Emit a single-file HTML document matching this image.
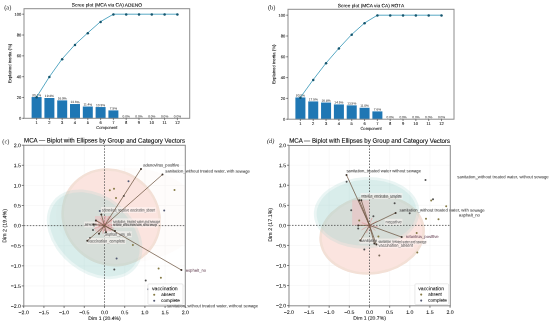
<!DOCTYPE html>
<html><head><meta charset="utf-8"><style>
html,body{margin:0;padding:0;background:#fff;width:550px;height:322px;overflow:hidden}
svg{display:block;filter:blur(0.4px)}
</style></head><body>
<svg width="550" height="322" viewBox="0 0 550 322">
<rect width="550" height="322" fill="#fff"/>
<rect x="31.61" y="97.06" width="9.98" height="21.24" fill="#1f77b4" />
<text x="36.60" y="95.16" font-size="3.2" text-anchor="middle" fill="#333" color="#333" font-family='"Liberation Sans", sans-serif' dominant-baseline="central"  stroke="#333" stroke-width="0.03" transform="rotate(0.1 36.60 95.16)">20.4%</text>
<rect x="44.41" y="98.00" width="9.98" height="20.30" fill="#1f77b4" />
<text x="49.40" y="96.10" font-size="3.2" text-anchor="middle" fill="#333" color="#333" font-family='"Liberation Sans", sans-serif' dominant-baseline="central"  stroke="#333" stroke-width="0.03" transform="rotate(0.1 49.40 96.10)">19.4%</text>
<rect x="57.21" y="100.39" width="9.98" height="17.91" fill="#1f77b4" />
<text x="62.20" y="98.49" font-size="3.2" text-anchor="middle" fill="#333" color="#333" font-family='"Liberation Sans", sans-serif' dominant-baseline="central"  stroke="#333" stroke-width="0.03" transform="rotate(0.1 62.20 98.49)">16.9%</text>
<rect x="70.01" y="104.04" width="9.98" height="14.26" fill="#1f77b4" />
<text x="75.00" y="102.14" font-size="3.2" text-anchor="middle" fill="#333" color="#333" font-family='"Liberation Sans", sans-serif' dominant-baseline="central"  stroke="#333" stroke-width="0.03" transform="rotate(0.1 75.00 102.14)">13.6%</text>
<rect x="82.81" y="106.54" width="9.98" height="11.76" fill="#1f77b4" />
<text x="87.80" y="104.64" font-size="3.2" text-anchor="middle" fill="#333" color="#333" font-family='"Liberation Sans", sans-serif' dominant-baseline="central"  stroke="#333" stroke-width="0.03" transform="rotate(0.1 87.80 104.64)">11.4%</text>
<rect x="95.61" y="107.06" width="9.98" height="11.24" fill="#1f77b4" />
<text x="100.60" y="105.16" font-size="3.2" text-anchor="middle" fill="#333" color="#333" font-family='"Liberation Sans", sans-serif' dominant-baseline="central"  stroke="#333" stroke-width="0.03" transform="rotate(0.1 100.60 105.16)">10.9%</text>
<rect x="108.41" y="110.39" width="9.98" height="7.91" fill="#1f77b4" />
<text x="113.40" y="108.49" font-size="3.2" text-anchor="middle" fill="#333" color="#333" font-family='"Liberation Sans", sans-serif' dominant-baseline="central"  stroke="#333" stroke-width="0.03" transform="rotate(0.1 113.40 108.49)">7.5%</text>
<text x="126.20" y="116.40" font-size="3.2" text-anchor="middle" fill="#333" color="#333" font-family='"Liberation Sans", sans-serif' dominant-baseline="central"  stroke="#333" stroke-width="0.03" transform="rotate(0.1 126.20 116.40)">0.0%</text>
<text x="139.00" y="116.40" font-size="3.2" text-anchor="middle" fill="#333" color="#333" font-family='"Liberation Sans", sans-serif' dominant-baseline="central"  stroke="#333" stroke-width="0.03" transform="rotate(0.1 139.00 116.40)">0.0%</text>
<text x="151.80" y="116.40" font-size="3.2" text-anchor="middle" fill="#333" color="#333" font-family='"Liberation Sans", sans-serif' dominant-baseline="central"  stroke="#333" stroke-width="0.03" transform="rotate(0.1 151.80 116.40)">0.0%</text>
<text x="164.60" y="116.40" font-size="3.2" text-anchor="middle" fill="#333" color="#333" font-family='"Liberation Sans", sans-serif' dominant-baseline="central"  stroke="#333" stroke-width="0.03" transform="rotate(0.1 164.60 116.40)">0.0%</text>
<text x="177.40" y="116.40" font-size="3.2" text-anchor="middle" fill="#333" color="#333" font-family='"Liberation Sans", sans-serif' dominant-baseline="central"  stroke="#333" stroke-width="0.03" transform="rotate(0.1 177.40 116.40)">0.0%</text>
<polyline points="36.60,97.06 49.40,76.76 62.20,58.86 75.00,44.60 87.80,32.83 100.60,21.59 113.40,14.20 126.20,14.20 139.00,14.20 151.80,14.20 164.60,14.20 177.40,14.20" fill="none" stroke="#58a9c4" stroke-width="1.0"/>
<circle cx="36.60" cy="97.36" r="1.25" fill="#16566e" />
<circle cx="49.40" cy="77.06" r="1.25" fill="#16566e" />
<circle cx="62.20" cy="59.16" r="1.25" fill="#16566e" />
<circle cx="75.00" cy="44.90" r="1.25" fill="#16566e" />
<circle cx="87.80" cy="33.13" r="1.25" fill="#16566e" />
<circle cx="100.60" cy="21.89" r="1.25" fill="#16566e" />
<circle cx="113.40" cy="14.50" r="1.25" fill="#16566e" />
<circle cx="126.20" cy="14.50" r="1.25" fill="#16566e" />
<circle cx="139.00" cy="14.50" r="1.25" fill="#16566e" />
<circle cx="151.80" cy="14.50" r="1.25" fill="#16566e" />
<circle cx="164.60" cy="14.50" r="1.25" fill="#16566e" />
<circle cx="177.40" cy="14.50" r="1.25" fill="#16566e" />
<rect x="24" y="8.7" width="165.7" height="109.6" fill="none" stroke="#8c8c8c" stroke-width="1.0"/>
<line x1="22.20" y1="118.30" x2="24.00" y2="118.30" stroke="#333" stroke-width="0.6" />
<text x="21.40" y="118.30" font-size="4.1" text-anchor="end" fill="#111" color="#111" font-family='"Liberation Sans", sans-serif' dominant-baseline="central"  stroke="#111" stroke-width="0.07" transform="rotate(0.1 21.40 118.30)">0</text>
<line x1="22.20" y1="97.48" x2="24.00" y2="97.48" stroke="#333" stroke-width="0.6" />
<text x="21.40" y="97.48" font-size="4.1" text-anchor="end" fill="#111" color="#111" font-family='"Liberation Sans", sans-serif' dominant-baseline="central"  stroke="#111" stroke-width="0.07" transform="rotate(0.1 21.40 97.48)">20</text>
<line x1="22.20" y1="76.66" x2="24.00" y2="76.66" stroke="#333" stroke-width="0.6" />
<text x="21.40" y="76.66" font-size="4.1" text-anchor="end" fill="#111" color="#111" font-family='"Liberation Sans", sans-serif' dominant-baseline="central"  stroke="#111" stroke-width="0.07" transform="rotate(0.1 21.40 76.66)">40</text>
<line x1="22.20" y1="55.84" x2="24.00" y2="55.84" stroke="#333" stroke-width="0.6" />
<text x="21.40" y="55.84" font-size="4.1" text-anchor="end" fill="#111" color="#111" font-family='"Liberation Sans", sans-serif' dominant-baseline="central"  stroke="#111" stroke-width="0.07" transform="rotate(0.1 21.40 55.84)">60</text>
<line x1="22.20" y1="35.02" x2="24.00" y2="35.02" stroke="#333" stroke-width="0.6" />
<text x="21.40" y="35.02" font-size="4.1" text-anchor="end" fill="#111" color="#111" font-family='"Liberation Sans", sans-serif' dominant-baseline="central"  stroke="#111" stroke-width="0.07" transform="rotate(0.1 21.40 35.02)">80</text>
<line x1="22.20" y1="14.20" x2="24.00" y2="14.20" stroke="#333" stroke-width="0.6" />
<text x="21.40" y="14.20" font-size="4.1" text-anchor="end" fill="#111" color="#111" font-family='"Liberation Sans", sans-serif' dominant-baseline="central"  stroke="#111" stroke-width="0.07" transform="rotate(0.1 21.40 14.20)">100</text>
<line x1="36.60" y1="118.30" x2="36.60" y2="120.10" stroke="#333" stroke-width="0.6" />
<text x="36.60" y="122.50" font-size="4.1" text-anchor="middle" fill="#111" color="#111" font-family='"Liberation Sans", sans-serif' dominant-baseline="central"  stroke="#111" stroke-width="0.07" transform="rotate(0.1 36.60 122.50)">1</text>
<line x1="49.40" y1="118.30" x2="49.40" y2="120.10" stroke="#333" stroke-width="0.6" />
<text x="49.40" y="122.50" font-size="4.1" text-anchor="middle" fill="#111" color="#111" font-family='"Liberation Sans", sans-serif' dominant-baseline="central"  stroke="#111" stroke-width="0.07" transform="rotate(0.1 49.40 122.50)">2</text>
<line x1="62.20" y1="118.30" x2="62.20" y2="120.10" stroke="#333" stroke-width="0.6" />
<text x="62.20" y="122.50" font-size="4.1" text-anchor="middle" fill="#111" color="#111" font-family='"Liberation Sans", sans-serif' dominant-baseline="central"  stroke="#111" stroke-width="0.07" transform="rotate(0.1 62.20 122.50)">3</text>
<line x1="75.00" y1="118.30" x2="75.00" y2="120.10" stroke="#333" stroke-width="0.6" />
<text x="75.00" y="122.50" font-size="4.1" text-anchor="middle" fill="#111" color="#111" font-family='"Liberation Sans", sans-serif' dominant-baseline="central"  stroke="#111" stroke-width="0.07" transform="rotate(0.1 75.00 122.50)">4</text>
<line x1="87.80" y1="118.30" x2="87.80" y2="120.10" stroke="#333" stroke-width="0.6" />
<text x="87.80" y="122.50" font-size="4.1" text-anchor="middle" fill="#111" color="#111" font-family='"Liberation Sans", sans-serif' dominant-baseline="central"  stroke="#111" stroke-width="0.07" transform="rotate(0.1 87.80 122.50)">5</text>
<line x1="100.60" y1="118.30" x2="100.60" y2="120.10" stroke="#333" stroke-width="0.6" />
<text x="100.60" y="122.50" font-size="4.1" text-anchor="middle" fill="#111" color="#111" font-family='"Liberation Sans", sans-serif' dominant-baseline="central"  stroke="#111" stroke-width="0.07" transform="rotate(0.1 100.60 122.50)">6</text>
<line x1="113.40" y1="118.30" x2="113.40" y2="120.10" stroke="#333" stroke-width="0.6" />
<text x="113.40" y="122.50" font-size="4.1" text-anchor="middle" fill="#111" color="#111" font-family='"Liberation Sans", sans-serif' dominant-baseline="central"  stroke="#111" stroke-width="0.07" transform="rotate(0.1 113.40 122.50)">7</text>
<line x1="126.20" y1="118.30" x2="126.20" y2="120.10" stroke="#333" stroke-width="0.6" />
<text x="126.20" y="122.50" font-size="4.1" text-anchor="middle" fill="#111" color="#111" font-family='"Liberation Sans", sans-serif' dominant-baseline="central"  stroke="#111" stroke-width="0.07" transform="rotate(0.1 126.20 122.50)">8</text>
<line x1="139.00" y1="118.30" x2="139.00" y2="120.10" stroke="#333" stroke-width="0.6" />
<text x="139.00" y="122.50" font-size="4.1" text-anchor="middle" fill="#111" color="#111" font-family='"Liberation Sans", sans-serif' dominant-baseline="central"  stroke="#111" stroke-width="0.07" transform="rotate(0.1 139.00 122.50)">9</text>
<line x1="151.80" y1="118.30" x2="151.80" y2="120.10" stroke="#333" stroke-width="0.6" />
<text x="151.80" y="122.50" font-size="4.1" text-anchor="middle" fill="#111" color="#111" font-family='"Liberation Sans", sans-serif' dominant-baseline="central"  stroke="#111" stroke-width="0.07" transform="rotate(0.1 151.80 122.50)">10</text>
<line x1="164.60" y1="118.30" x2="164.60" y2="120.10" stroke="#333" stroke-width="0.6" />
<text x="164.60" y="122.50" font-size="4.1" text-anchor="middle" fill="#111" color="#111" font-family='"Liberation Sans", sans-serif' dominant-baseline="central"  stroke="#111" stroke-width="0.07" transform="rotate(0.1 164.60 122.50)">11</text>
<line x1="177.40" y1="118.30" x2="177.40" y2="120.10" stroke="#333" stroke-width="0.6" />
<text x="177.40" y="122.50" font-size="4.1" text-anchor="middle" fill="#111" color="#111" font-family='"Liberation Sans", sans-serif' dominant-baseline="central"  stroke="#111" stroke-width="0.07" transform="rotate(0.1 177.40 122.50)">12</text>
<text x="106.85" y="127.50" font-size="4.1" text-anchor="middle" fill="#111" color="#111" font-family='"Liberation Sans", sans-serif' dominant-baseline="central"  stroke="#111" stroke-width="0.07" transform="rotate(0.1 106.85 127.50)">Component</text>
<text x="106.85" y="5.10" font-size="4.8" text-anchor="middle" fill="#000" color="#000" font-family='"Liberation Sans", sans-serif' dominant-baseline="central"  stroke="#000" stroke-width="0.07" transform="rotate(0.1 106.85 5.10)">Scree plot (MCA via CA) ADENO</text>
<text x="9.70" y="63.50" font-size="4.25" text-anchor="middle" fill="#111" color="#111" font-family='"Liberation Sans", sans-serif' dominant-baseline="central" transform="rotate(-89.9 9.70 63.50)" stroke="#111" stroke-width="0.07">Explained inertia (%)</text>
<text x="4.20" y="6.90" font-size="6.4" text-anchor="start" fill="#222" color="#222" font-family='"Liberation Serif", serif' dominant-baseline="central"  transform="rotate(0.1 4.20 6.90)">(a)</text>
<rect x="295.40" y="97.46" width="10.01" height="21.74" fill="#1f77b4" />
<text x="300.40" y="95.56" font-size="3.2" text-anchor="middle" fill="#333" color="#333" font-family='"Liberation Sans", sans-serif' dominant-baseline="central"  stroke="#333" stroke-width="0.03" transform="rotate(0.1 300.40 95.56)">20.9%</text>
<rect x="308.23" y="101.42" width="10.01" height="17.78" fill="#1f77b4" />
<text x="313.23" y="99.52" font-size="3.2" text-anchor="middle" fill="#333" color="#333" font-family='"Liberation Sans", sans-serif' dominant-baseline="central"  stroke="#333" stroke-width="0.03" transform="rotate(0.1 313.23 99.52)">17.5%</text>
<rect x="321.06" y="102.56" width="10.01" height="16.64" fill="#1f77b4" />
<text x="326.06" y="100.66" font-size="3.2" text-anchor="middle" fill="#333" color="#333" font-family='"Liberation Sans", sans-serif' dominant-baseline="central"  stroke="#333" stroke-width="0.03" transform="rotate(0.1 326.06 100.66)">16.8%</text>
<rect x="333.89" y="104.43" width="10.01" height="14.77" fill="#1f77b4" />
<text x="338.89" y="102.53" font-size="3.2" text-anchor="middle" fill="#333" color="#333" font-family='"Liberation Sans", sans-serif' dominant-baseline="central"  stroke="#333" stroke-width="0.03" transform="rotate(0.1 338.89 102.53)">14.5%</text>
<rect x="346.72" y="105.37" width="10.01" height="13.83" fill="#1f77b4" />
<text x="351.72" y="103.47" font-size="3.2" text-anchor="middle" fill="#333" color="#333" font-family='"Liberation Sans", sans-serif' dominant-baseline="central"  stroke="#333" stroke-width="0.03" transform="rotate(0.1 351.72 103.47)">13.5%</text>
<rect x="359.55" y="107.76" width="10.01" height="11.44" fill="#1f77b4" />
<text x="364.55" y="105.86" font-size="3.2" text-anchor="middle" fill="#333" color="#333" font-family='"Liberation Sans", sans-serif' dominant-baseline="central"  stroke="#333" stroke-width="0.03" transform="rotate(0.1 364.55 105.86)">11.0%</text>
<rect x="372.38" y="111.40" width="10.01" height="7.80" fill="#1f77b4" />
<text x="377.38" y="109.50" font-size="3.2" text-anchor="middle" fill="#333" color="#333" font-family='"Liberation Sans", sans-serif' dominant-baseline="central"  stroke="#333" stroke-width="0.03" transform="rotate(0.1 377.38 109.50)">7.6%</text>
<text x="390.21" y="117.30" font-size="3.2" text-anchor="middle" fill="#333" color="#333" font-family='"Liberation Sans", sans-serif' dominant-baseline="central"  stroke="#333" stroke-width="0.03" transform="rotate(0.1 390.21 117.30)">0.0%</text>
<text x="403.04" y="117.30" font-size="3.2" text-anchor="middle" fill="#333" color="#333" font-family='"Liberation Sans", sans-serif' dominant-baseline="central"  stroke="#333" stroke-width="0.03" transform="rotate(0.1 403.04 117.30)">0.0%</text>
<text x="415.87" y="117.30" font-size="3.2" text-anchor="middle" fill="#333" color="#333" font-family='"Liberation Sans", sans-serif' dominant-baseline="central"  stroke="#333" stroke-width="0.03" transform="rotate(0.1 415.87 117.30)">0.0%</text>
<text x="428.70" y="117.30" font-size="3.2" text-anchor="middle" fill="#333" color="#333" font-family='"Liberation Sans", sans-serif' dominant-baseline="central"  stroke="#333" stroke-width="0.03" transform="rotate(0.1 428.70 117.30)">0.0%</text>
<text x="441.53" y="117.30" font-size="3.2" text-anchor="middle" fill="#333" color="#333" font-family='"Liberation Sans", sans-serif' dominant-baseline="central"  stroke="#333" stroke-width="0.03" transform="rotate(0.1 441.53 117.30)">0.0%</text>
<polyline points="300.40,97.46 313.23,79.68 326.06,63.04 338.89,48.27 351.72,34.44 364.55,23.00 377.38,15.20 390.21,15.20 403.04,15.20 415.87,15.20 428.70,15.20 441.53,15.20" fill="none" stroke="#58a9c4" stroke-width="1.0"/>
<circle cx="300.40" cy="97.76" r="1.25" fill="#16566e" />
<circle cx="313.23" cy="79.98" r="1.25" fill="#16566e" />
<circle cx="326.06" cy="63.34" r="1.25" fill="#16566e" />
<circle cx="338.89" cy="48.57" r="1.25" fill="#16566e" />
<circle cx="351.72" cy="34.74" r="1.25" fill="#16566e" />
<circle cx="364.55" cy="23.30" r="1.25" fill="#16566e" />
<circle cx="377.38" cy="15.50" r="1.25" fill="#16566e" />
<circle cx="390.21" cy="15.50" r="1.25" fill="#16566e" />
<circle cx="403.04" cy="15.50" r="1.25" fill="#16566e" />
<circle cx="415.87" cy="15.50" r="1.25" fill="#16566e" />
<circle cx="428.70" cy="15.50" r="1.25" fill="#16566e" />
<circle cx="441.53" cy="15.50" r="1.25" fill="#16566e" />
<rect x="288" y="9.3" width="166" height="109.9" fill="none" stroke="#8c8c8c" stroke-width="1.0"/>
<line x1="286.20" y1="119.20" x2="288.00" y2="119.20" stroke="#333" stroke-width="0.6" />
<text x="285.40" y="119.20" font-size="4.1" text-anchor="end" fill="#111" color="#111" font-family='"Liberation Sans", sans-serif' dominant-baseline="central"  stroke="#111" stroke-width="0.07" transform="rotate(0.1 285.40 119.20)">0</text>
<line x1="286.20" y1="98.40" x2="288.00" y2="98.40" stroke="#333" stroke-width="0.6" />
<text x="285.40" y="98.40" font-size="4.1" text-anchor="end" fill="#111" color="#111" font-family='"Liberation Sans", sans-serif' dominant-baseline="central"  stroke="#111" stroke-width="0.07" transform="rotate(0.1 285.40 98.40)">20</text>
<line x1="286.20" y1="77.60" x2="288.00" y2="77.60" stroke="#333" stroke-width="0.6" />
<text x="285.40" y="77.60" font-size="4.1" text-anchor="end" fill="#111" color="#111" font-family='"Liberation Sans", sans-serif' dominant-baseline="central"  stroke="#111" stroke-width="0.07" transform="rotate(0.1 285.40 77.60)">40</text>
<line x1="286.20" y1="56.80" x2="288.00" y2="56.80" stroke="#333" stroke-width="0.6" />
<text x="285.40" y="56.80" font-size="4.1" text-anchor="end" fill="#111" color="#111" font-family='"Liberation Sans", sans-serif' dominant-baseline="central"  stroke="#111" stroke-width="0.07" transform="rotate(0.1 285.40 56.80)">60</text>
<line x1="286.20" y1="36.00" x2="288.00" y2="36.00" stroke="#333" stroke-width="0.6" />
<text x="285.40" y="36.00" font-size="4.1" text-anchor="end" fill="#111" color="#111" font-family='"Liberation Sans", sans-serif' dominant-baseline="central"  stroke="#111" stroke-width="0.07" transform="rotate(0.1 285.40 36.00)">80</text>
<line x1="286.20" y1="15.20" x2="288.00" y2="15.20" stroke="#333" stroke-width="0.6" />
<text x="285.40" y="15.20" font-size="4.1" text-anchor="end" fill="#111" color="#111" font-family='"Liberation Sans", sans-serif' dominant-baseline="central"  stroke="#111" stroke-width="0.07" transform="rotate(0.1 285.40 15.20)">100</text>
<line x1="300.40" y1="119.20" x2="300.40" y2="121.00" stroke="#333" stroke-width="0.6" />
<text x="300.40" y="123.40" font-size="4.1" text-anchor="middle" fill="#111" color="#111" font-family='"Liberation Sans", sans-serif' dominant-baseline="central"  stroke="#111" stroke-width="0.07" transform="rotate(0.1 300.40 123.40)">1</text>
<line x1="313.23" y1="119.20" x2="313.23" y2="121.00" stroke="#333" stroke-width="0.6" />
<text x="313.23" y="123.40" font-size="4.1" text-anchor="middle" fill="#111" color="#111" font-family='"Liberation Sans", sans-serif' dominant-baseline="central"  stroke="#111" stroke-width="0.07" transform="rotate(0.1 313.23 123.40)">2</text>
<line x1="326.06" y1="119.20" x2="326.06" y2="121.00" stroke="#333" stroke-width="0.6" />
<text x="326.06" y="123.40" font-size="4.1" text-anchor="middle" fill="#111" color="#111" font-family='"Liberation Sans", sans-serif' dominant-baseline="central"  stroke="#111" stroke-width="0.07" transform="rotate(0.1 326.06 123.40)">3</text>
<line x1="338.89" y1="119.20" x2="338.89" y2="121.00" stroke="#333" stroke-width="0.6" />
<text x="338.89" y="123.40" font-size="4.1" text-anchor="middle" fill="#111" color="#111" font-family='"Liberation Sans", sans-serif' dominant-baseline="central"  stroke="#111" stroke-width="0.07" transform="rotate(0.1 338.89 123.40)">4</text>
<line x1="351.72" y1="119.20" x2="351.72" y2="121.00" stroke="#333" stroke-width="0.6" />
<text x="351.72" y="123.40" font-size="4.1" text-anchor="middle" fill="#111" color="#111" font-family='"Liberation Sans", sans-serif' dominant-baseline="central"  stroke="#111" stroke-width="0.07" transform="rotate(0.1 351.72 123.40)">5</text>
<line x1="364.55" y1="119.20" x2="364.55" y2="121.00" stroke="#333" stroke-width="0.6" />
<text x="364.55" y="123.40" font-size="4.1" text-anchor="middle" fill="#111" color="#111" font-family='"Liberation Sans", sans-serif' dominant-baseline="central"  stroke="#111" stroke-width="0.07" transform="rotate(0.1 364.55 123.40)">6</text>
<line x1="377.38" y1="119.20" x2="377.38" y2="121.00" stroke="#333" stroke-width="0.6" />
<text x="377.38" y="123.40" font-size="4.1" text-anchor="middle" fill="#111" color="#111" font-family='"Liberation Sans", sans-serif' dominant-baseline="central"  stroke="#111" stroke-width="0.07" transform="rotate(0.1 377.38 123.40)">7</text>
<line x1="390.21" y1="119.20" x2="390.21" y2="121.00" stroke="#333" stroke-width="0.6" />
<text x="390.21" y="123.40" font-size="4.1" text-anchor="middle" fill="#111" color="#111" font-family='"Liberation Sans", sans-serif' dominant-baseline="central"  stroke="#111" stroke-width="0.07" transform="rotate(0.1 390.21 123.40)">8</text>
<line x1="403.04" y1="119.20" x2="403.04" y2="121.00" stroke="#333" stroke-width="0.6" />
<text x="403.04" y="123.40" font-size="4.1" text-anchor="middle" fill="#111" color="#111" font-family='"Liberation Sans", sans-serif' dominant-baseline="central"  stroke="#111" stroke-width="0.07" transform="rotate(0.1 403.04 123.40)">9</text>
<line x1="415.87" y1="119.20" x2="415.87" y2="121.00" stroke="#333" stroke-width="0.6" />
<text x="415.87" y="123.40" font-size="4.1" text-anchor="middle" fill="#111" color="#111" font-family='"Liberation Sans", sans-serif' dominant-baseline="central"  stroke="#111" stroke-width="0.07" transform="rotate(0.1 415.87 123.40)">10</text>
<line x1="428.70" y1="119.20" x2="428.70" y2="121.00" stroke="#333" stroke-width="0.6" />
<text x="428.70" y="123.40" font-size="4.1" text-anchor="middle" fill="#111" color="#111" font-family='"Liberation Sans", sans-serif' dominant-baseline="central"  stroke="#111" stroke-width="0.07" transform="rotate(0.1 428.70 123.40)">11</text>
<line x1="441.53" y1="119.20" x2="441.53" y2="121.00" stroke="#333" stroke-width="0.6" />
<text x="441.53" y="123.40" font-size="4.1" text-anchor="middle" fill="#111" color="#111" font-family='"Liberation Sans", sans-serif' dominant-baseline="central"  stroke="#111" stroke-width="0.07" transform="rotate(0.1 441.53 123.40)">12</text>
<text x="371.00" y="128.40" font-size="4.1" text-anchor="middle" fill="#111" color="#111" font-family='"Liberation Sans", sans-serif' dominant-baseline="central"  stroke="#111" stroke-width="0.07" transform="rotate(0.1 371.00 128.40)">Component</text>
<text x="371.00" y="5.70" font-size="4.8" text-anchor="middle" fill="#000" color="#000" font-family='"Liberation Sans", sans-serif' dominant-baseline="central"  stroke="#000" stroke-width="0.07" transform="rotate(0.1 371.00 5.70)">Scree plot (MCA via CA) ROTA</text>
<text x="273.70" y="64.25" font-size="4.25" text-anchor="middle" fill="#111" color="#111" font-family='"Liberation Sans", sans-serif' dominant-baseline="central" transform="rotate(-89.9 273.70 64.25)" stroke="#111" stroke-width="0.07">Explained inertia (%)</text>
<text x="267.90" y="6.90" font-size="6.4" text-anchor="start" fill="#222" color="#222" font-family='"Liberation Serif", serif' dominant-baseline="central"  transform="rotate(0.1 267.90 6.90)">(b)</text>
<line x1="23.70" y1="145.30" x2="23.70" y2="306.00" stroke="#f3f3f3" stroke-width="0.5" />
<line x1="23.80" y1="306.00" x2="185.30" y2="306.00" stroke="#f3f3f3" stroke-width="0.5" />
<line x1="43.90" y1="145.30" x2="43.90" y2="306.00" stroke="#f3f3f3" stroke-width="0.5" />
<line x1="23.80" y1="285.90" x2="185.30" y2="285.90" stroke="#f3f3f3" stroke-width="0.5" />
<line x1="64.10" y1="145.30" x2="64.10" y2="306.00" stroke="#f3f3f3" stroke-width="0.5" />
<line x1="23.80" y1="265.80" x2="185.30" y2="265.80" stroke="#f3f3f3" stroke-width="0.5" />
<line x1="84.30" y1="145.30" x2="84.30" y2="306.00" stroke="#f3f3f3" stroke-width="0.5" />
<line x1="23.80" y1="245.70" x2="185.30" y2="245.70" stroke="#f3f3f3" stroke-width="0.5" />
<line x1="104.50" y1="145.30" x2="104.50" y2="306.00" stroke="#f3f3f3" stroke-width="0.5" />
<line x1="23.80" y1="225.60" x2="185.30" y2="225.60" stroke="#f3f3f3" stroke-width="0.5" />
<line x1="124.70" y1="145.30" x2="124.70" y2="306.00" stroke="#f3f3f3" stroke-width="0.5" />
<line x1="23.80" y1="205.50" x2="185.30" y2="205.50" stroke="#f3f3f3" stroke-width="0.5" />
<line x1="144.90" y1="145.30" x2="144.90" y2="306.00" stroke="#f3f3f3" stroke-width="0.5" />
<line x1="23.80" y1="185.40" x2="185.30" y2="185.40" stroke="#f3f3f3" stroke-width="0.5" />
<line x1="165.10" y1="145.30" x2="165.10" y2="306.00" stroke="#f3f3f3" stroke-width="0.5" />
<line x1="23.80" y1="165.30" x2="185.30" y2="165.30" stroke="#f3f3f3" stroke-width="0.5" />
<line x1="185.30" y1="145.30" x2="185.30" y2="306.00" stroke="#f3f3f3" stroke-width="0.5" />
<line x1="23.80" y1="145.20" x2="185.30" y2="145.20" stroke="#f3f3f3" stroke-width="0.5" />
<clipPath id="ax1"><rect x="23.8" y="145.3" width="161.5" height="160.7"/></clipPath>
<ellipse cx="128" cy="215" rx="72" ry="47" transform="rotate(0 128 215)" fill="#fbe4df" fill-opacity="0.13" clip-path="url(#ax1)"/>
<g transform="rotate(40 111.20 217.40)">
<ellipse cx="111.20" cy="217.40" rx="51.40" ry="47.40" fill="#fbe4df" fill-opacity="1.0"/>
<clipPath id="ec2"><ellipse cx="111.20" cy="217.40" rx="51.40" ry="47.40"/></clipPath>
<ellipse cx="111.20" cy="217.40" rx="51.40" ry="47.40" fill="none" stroke="#d8d0b8" stroke-opacity="0.22" stroke-width="5" clip-path="url(#ec2)"/>
</g>
<g transform="rotate(39.2 94.60 234.30)">
<ellipse cx="94.60" cy="234.30" rx="53.20" ry="38.40" fill="#9fd3cf" fill-opacity="0.22"/>
<ellipse cx="94.60" cy="234.30" rx="50.40" ry="35.60" fill="#9fd3cf" fill-opacity="0.231"/>
</g>
<line x1="104.50" y1="145.30" x2="104.50" y2="306.00" stroke="#444" stroke-width="0.75" stroke-dasharray="1.5,1.5"/>
<line x1="23.80" y1="225.60" x2="185.30" y2="225.60" stroke="#444" stroke-width="0.75" stroke-dasharray="1.5,1.5"/>
<rect x="95" y="216" width="17" height="15.5" fill="#f2b9bb" fill-opacity="0.45"/>
<line x1="104.4" y1="224.8" x2="115.40" y2="224.80" stroke="#e07a80" stroke-width="0.6" stroke-opacity="0.8"/>
<line x1="104.4" y1="224.8" x2="113.80" y2="228.22" stroke="#e07a80" stroke-width="0.6" stroke-opacity="0.8"/>
<line x1="104.4" y1="224.8" x2="110.76" y2="231.16" stroke="#e07a80" stroke-width="0.6" stroke-opacity="0.8"/>
<line x1="104.4" y1="224.8" x2="107.14" y2="232.32" stroke="#e07a80" stroke-width="0.6" stroke-opacity="0.8"/>
<line x1="104.4" y1="224.8" x2="102.84" y2="233.66" stroke="#e07a80" stroke-width="0.6" stroke-opacity="0.8"/>
<line x1="104.4" y1="224.8" x2="97.97" y2="232.46" stroke="#e07a80" stroke-width="0.6" stroke-opacity="0.8"/>
<line x1="104.4" y1="224.8" x2="94.06" y2="228.56" stroke="#e07a80" stroke-width="0.6" stroke-opacity="0.8"/>
<line x1="104.4" y1="224.8" x2="94.44" y2="223.93" stroke="#e07a80" stroke-width="0.6" stroke-opacity="0.8"/>
<line x1="104.4" y1="224.8" x2="96.61" y2="220.30" stroke="#e07a80" stroke-width="0.6" stroke-opacity="0.8"/>
<line x1="104.4" y1="224.8" x2="100.40" y2="217.87" stroke="#e07a80" stroke-width="0.6" stroke-opacity="0.8"/>
<line x1="104.4" y1="224.8" x2="105.18" y2="215.83" stroke="#e07a80" stroke-width="0.6" stroke-opacity="0.8"/>
<line x1="104.4" y1="224.8" x2="109.40" y2="216.14" stroke="#e07a80" stroke-width="0.6" stroke-opacity="0.8"/>
<line x1="104.4" y1="224.8" x2="113.93" y2="219.30" stroke="#e07a80" stroke-width="0.6" stroke-opacity="0.8"/>
<circle cx="128.50" cy="181.30" r="1.0" fill="#525872" />
<circle cx="109.80" cy="190.30" r="1.0" fill="#857a45" />
<circle cx="114.00" cy="188.80" r="1.0" fill="#857a45" />
<circle cx="116.00" cy="198.00" r="1.0" fill="#857a45" />
<circle cx="174.50" cy="189.90" r="1.0" fill="#857a45" />
<circle cx="158.60" cy="268.60" r="1.0" fill="#857a45" />
<circle cx="160.90" cy="277.70" r="1.0" fill="#857a45" />
<circle cx="145.70" cy="280.60" r="1.0" fill="#505050" />
<circle cx="116.60" cy="258.60" r="1.0" fill="#525872" />
<circle cx="114.30" cy="269.40" r="1.0" fill="#505050" />
<circle cx="132.90" cy="244.90" r="1.0" fill="#857a45" />
<circle cx="148.20" cy="289.30" r="1.0" fill="#525872" />
<circle cx="93.00" cy="230.00" r="1.0" fill="#505050" />
<circle cx="90.00" cy="238.00" r="1.0" fill="#505050" />
<circle cx="86.00" cy="225.00" r="1.0" fill="#505050" />
<circle cx="99.75" cy="211.00" r="1.0" fill="#525872" />
<circle cx="164.20" cy="210.50" r="1.0" fill="#525872" />
<circle cx="123.80" cy="196.00" r="1.0" fill="#505050" />
<rect x="101.20" y="207.00" width="54.60" height="6.00" fill="#fff6f4" fill-opacity="0.55"/>
<rect x="112.20" y="218.40" width="48.60" height="6.00" fill="#fff6f4" fill-opacity="0.55"/>
<rect x="112.20" y="221.50" width="45.60" height="6.00" fill="#fff6f4" fill-opacity="0.55"/>
<rect x="104.20" y="231.30" width="27.60" height="6.00" fill="#fff6f4" fill-opacity="0.55"/>
<rect x="87.20" y="238.00" width="38.60" height="6.00" fill="#fff6f4" fill-opacity="0.55"/>
<rect x="84.20" y="221.65" width="13.60" height="5.70" fill="#fff6f4" fill-opacity="0.55"/>
<line x1="104.50" y1="225.60" x2="141.00" y2="168.90" stroke="#6e5642" stroke-width="0.75" />
<circle cx="141.00" cy="168.90" r="1.0" fill="#3e342c" />
<line x1="104.50" y1="225.60" x2="162.50" y2="174.50" stroke="#6e5642" stroke-width="0.75" />
<circle cx="162.50" cy="174.50" r="1.0" fill="#3e342c" />
<line x1="104.50" y1="225.60" x2="181.40" y2="270.00" stroke="#6e5642" stroke-width="0.75" />
<circle cx="181.40" cy="270.00" r="1.0" fill="#3e342c" />
<line x1="104.50" y1="225.60" x2="87.30" y2="240.80" stroke="#6e5642" stroke-width="0.75" />
<circle cx="87.30" cy="240.80" r="1.0" fill="#3e342c" />
<line x1="104.50" y1="225.60" x2="101.30" y2="214.40" stroke="#6e5642" stroke-width="0.75" />
<circle cx="101.30" cy="214.40" r="1.0" fill="#3e342c" />
<line x1="104.50" y1="225.60" x2="95.90" y2="220.60" stroke="#6e5642" stroke-width="0.75" />
<circle cx="95.90" cy="220.60" r="1.0" fill="#3e342c" />
<line x1="104.50" y1="225.60" x2="93.50" y2="224.50" stroke="#6e5642" stroke-width="0.75" />
<circle cx="93.50" cy="224.50" r="1.0" fill="#3e342c" />
<line x1="104.50" y1="225.60" x2="99.00" y2="233.80" stroke="#6e5642" stroke-width="0.75" />
<circle cx="99.00" cy="233.80" r="1.0" fill="#3e342c" />
<line x1="104.50" y1="225.60" x2="106.00" y2="232.30" stroke="#6e5642" stroke-width="0.75" />
<circle cx="106.00" cy="232.30" r="1.0" fill="#3e342c" />
<line x1="104.50" y1="225.60" x2="115.00" y2="231.00" stroke="#6e5642" stroke-width="0.75" />
<circle cx="115.00" cy="231.00" r="1.0" fill="#3e342c" />
<text x="143.20" y="165.00" font-size="4.07" text-anchor="start" fill="#4a4a4a" color="#4a4a4a" font-family='"Liberation Sans", sans-serif' dominant-baseline="central"  textLength="36.00" lengthAdjust="spacingAndGlyphs" stroke="#4a4a4a" stroke-width="0.07" transform="rotate(0.1 143.20 165.00)">adenovirus_positive</text>
<text x="165.30" y="171.00" font-size="4.2" text-anchor="start" fill="#4a4a4a" color="#4a4a4a" font-family='"Liberation Sans", sans-serif' dominant-baseline="central"  textLength="84.60" lengthAdjust="spacingAndGlyphs" stroke="#4a4a4a" stroke-width="0.07" transform="rotate(0.1 165.30 171.00)">sanitation_without treated water, with sewage</text>
<text x="185.70" y="270.20" font-size="4.2" text-anchor="start" fill="#7a5a6a" color="#7a5a6a" font-family='"Liberation Sans", sans-serif' dominant-baseline="central"  textLength="20.50" lengthAdjust="spacingAndGlyphs" stroke="#7a5a6a" stroke-width="0.07" transform="rotate(0.1 185.70 270.20)">asphalt_no</text>
<text x="167.00" y="305.70" font-size="4.2" text-anchor="start" fill="#4a4a4a" color="#4a4a4a" font-family='"Liberation Sans", sans-serif' dominant-baseline="central"  textLength="91.00" lengthAdjust="spacingAndGlyphs" stroke="#4a4a4a" stroke-width="0.07" transform="rotate(0.1 167.00 305.70)">sanitation_without treated water, without sewage</text>
<text x="102.00" y="210.00" font-size="4.0" text-anchor="start" fill="#666" color="#666" font-family='"Liberation Sans", sans-serif' dominant-baseline="central"  textLength="53.00" lengthAdjust="spacingAndGlyphs" stroke="#666" stroke-width="0.07" transform="rotate(0.1 102.00 210.00)">adenovirus_negative vaccination_absent</text>
<text x="113.00" y="221.40" font-size="4.0" text-anchor="start" fill="#666" color="#666" font-family='"Liberation Sans", sans-serif' dominant-baseline="central"  textLength="47.00" lengthAdjust="spacingAndGlyphs" stroke="#666" stroke-width="0.07" transform="rotate(0.1 113.00 221.40)">sanitation_treated water and sewage</text>
<text x="113.00" y="224.50" font-size="4.0" text-anchor="start" fill="#444" color="#444" font-family='"Liberation Sans", sans-serif' dominant-baseline="central"  textLength="44.00" lengthAdjust="spacingAndGlyphs" stroke="#444" stroke-width="0.07" transform="rotate(0.1 113.00 224.50)">sanitation_without treated water, without sewage</text>
<text x="105.00" y="234.30" font-size="4.0" text-anchor="start" fill="#666" color="#666" font-family='"Liberation Sans", sans-serif' dominant-baseline="central"  textLength="26.00" lengthAdjust="spacingAndGlyphs" stroke="#666" stroke-width="0.07" transform="rotate(0.1 105.00 234.30)">asphalt_yes_ok</text>
<text x="88.00" y="241.00" font-size="4.0" text-anchor="start" fill="#666" color="#666" font-family='"Liberation Sans", sans-serif' dominant-baseline="central"  textLength="37.00" lengthAdjust="spacingAndGlyphs" stroke="#666" stroke-width="0.07" transform="rotate(0.1 88.00 241.00)">vaccination_complete</text>
<text x="85.00" y="224.50" font-size="3.8" text-anchor="start" fill="#444" color="#444" font-family='"Liberation Sans", sans-serif' dominant-baseline="central"  textLength="12.00" lengthAdjust="spacingAndGlyphs" stroke="#444" stroke-width="0.03" transform="rotate(0.1 85.00 224.50)">sewage</text>
<rect x="23.8" y="145.3" width="161.5" height="160.7" fill="none" stroke="#8c8c8c" stroke-width="1.0"/>
<line x1="23.70" y1="306.00" x2="23.70" y2="308.00" stroke="#333" stroke-width="0.6" />
<text x="23.70" y="312.30" font-size="5.2" text-anchor="middle" fill="#111" color="#111" font-family='"Liberation Sans", sans-serif' dominant-baseline="central"  stroke="#111" stroke-width="0.07" transform="rotate(0.1 23.70 312.30)">−2.0</text>
<line x1="21.80" y1="306.00" x2="23.80" y2="306.00" stroke="#333" stroke-width="0.6" />
<text x="21.00" y="306.00" font-size="5.2" text-anchor="end" fill="#111" color="#111" font-family='"Liberation Sans", sans-serif' dominant-baseline="central"  stroke="#111" stroke-width="0.07" transform="rotate(0.1 21.00 306.00)">−2.0</text>
<line x1="43.90" y1="306.00" x2="43.90" y2="308.00" stroke="#333" stroke-width="0.6" />
<text x="43.90" y="312.30" font-size="5.2" text-anchor="middle" fill="#111" color="#111" font-family='"Liberation Sans", sans-serif' dominant-baseline="central"  stroke="#111" stroke-width="0.07" transform="rotate(0.1 43.90 312.30)">−1.5</text>
<line x1="21.80" y1="285.90" x2="23.80" y2="285.90" stroke="#333" stroke-width="0.6" />
<text x="21.00" y="285.90" font-size="5.2" text-anchor="end" fill="#111" color="#111" font-family='"Liberation Sans", sans-serif' dominant-baseline="central"  stroke="#111" stroke-width="0.07" transform="rotate(0.1 21.00 285.90)">−1.5</text>
<line x1="64.10" y1="306.00" x2="64.10" y2="308.00" stroke="#333" stroke-width="0.6" />
<text x="64.10" y="312.30" font-size="5.2" text-anchor="middle" fill="#111" color="#111" font-family='"Liberation Sans", sans-serif' dominant-baseline="central"  stroke="#111" stroke-width="0.07" transform="rotate(0.1 64.10 312.30)">−1.0</text>
<line x1="21.80" y1="265.80" x2="23.80" y2="265.80" stroke="#333" stroke-width="0.6" />
<text x="21.00" y="265.80" font-size="5.2" text-anchor="end" fill="#111" color="#111" font-family='"Liberation Sans", sans-serif' dominant-baseline="central"  stroke="#111" stroke-width="0.07" transform="rotate(0.1 21.00 265.80)">−1.0</text>
<line x1="84.30" y1="306.00" x2="84.30" y2="308.00" stroke="#333" stroke-width="0.6" />
<text x="84.30" y="312.30" font-size="5.2" text-anchor="middle" fill="#111" color="#111" font-family='"Liberation Sans", sans-serif' dominant-baseline="central"  stroke="#111" stroke-width="0.07" transform="rotate(0.1 84.30 312.30)">−0.5</text>
<line x1="21.80" y1="245.70" x2="23.80" y2="245.70" stroke="#333" stroke-width="0.6" />
<text x="21.00" y="245.70" font-size="5.2" text-anchor="end" fill="#111" color="#111" font-family='"Liberation Sans", sans-serif' dominant-baseline="central"  stroke="#111" stroke-width="0.07" transform="rotate(0.1 21.00 245.70)">−0.5</text>
<line x1="104.50" y1="306.00" x2="104.50" y2="308.00" stroke="#333" stroke-width="0.6" />
<text x="104.50" y="312.30" font-size="5.2" text-anchor="middle" fill="#111" color="#111" font-family='"Liberation Sans", sans-serif' dominant-baseline="central"  stroke="#111" stroke-width="0.07" transform="rotate(0.1 104.50 312.30)">0.0</text>
<line x1="21.80" y1="225.60" x2="23.80" y2="225.60" stroke="#333" stroke-width="0.6" />
<text x="21.00" y="225.60" font-size="5.2" text-anchor="end" fill="#111" color="#111" font-family='"Liberation Sans", sans-serif' dominant-baseline="central"  stroke="#111" stroke-width="0.07" transform="rotate(0.1 21.00 225.60)">0.0</text>
<line x1="124.70" y1="306.00" x2="124.70" y2="308.00" stroke="#333" stroke-width="0.6" />
<text x="124.70" y="312.30" font-size="5.2" text-anchor="middle" fill="#111" color="#111" font-family='"Liberation Sans", sans-serif' dominant-baseline="central"  stroke="#111" stroke-width="0.07" transform="rotate(0.1 124.70 312.30)">0.5</text>
<line x1="21.80" y1="205.50" x2="23.80" y2="205.50" stroke="#333" stroke-width="0.6" />
<text x="21.00" y="205.50" font-size="5.2" text-anchor="end" fill="#111" color="#111" font-family='"Liberation Sans", sans-serif' dominant-baseline="central"  stroke="#111" stroke-width="0.07" transform="rotate(0.1 21.00 205.50)">0.5</text>
<line x1="144.90" y1="306.00" x2="144.90" y2="308.00" stroke="#333" stroke-width="0.6" />
<text x="144.90" y="312.30" font-size="5.2" text-anchor="middle" fill="#111" color="#111" font-family='"Liberation Sans", sans-serif' dominant-baseline="central"  stroke="#111" stroke-width="0.07" transform="rotate(0.1 144.90 312.30)">1.0</text>
<line x1="21.80" y1="185.40" x2="23.80" y2="185.40" stroke="#333" stroke-width="0.6" />
<text x="21.00" y="185.40" font-size="5.2" text-anchor="end" fill="#111" color="#111" font-family='"Liberation Sans", sans-serif' dominant-baseline="central"  stroke="#111" stroke-width="0.07" transform="rotate(0.1 21.00 185.40)">1.0</text>
<line x1="165.10" y1="306.00" x2="165.10" y2="308.00" stroke="#333" stroke-width="0.6" />
<text x="165.10" y="312.30" font-size="5.2" text-anchor="middle" fill="#111" color="#111" font-family='"Liberation Sans", sans-serif' dominant-baseline="central"  stroke="#111" stroke-width="0.07" transform="rotate(0.1 165.10 312.30)">1.5</text>
<line x1="21.80" y1="165.30" x2="23.80" y2="165.30" stroke="#333" stroke-width="0.6" />
<text x="21.00" y="165.30" font-size="5.2" text-anchor="end" fill="#111" color="#111" font-family='"Liberation Sans", sans-serif' dominant-baseline="central"  stroke="#111" stroke-width="0.07" transform="rotate(0.1 21.00 165.30)">1.5</text>
<line x1="185.30" y1="306.00" x2="185.30" y2="308.00" stroke="#333" stroke-width="0.6" />
<text x="185.30" y="312.30" font-size="5.2" text-anchor="middle" fill="#111" color="#111" font-family='"Liberation Sans", sans-serif' dominant-baseline="central"  stroke="#111" stroke-width="0.07" transform="rotate(0.1 185.30 312.30)">2.0</text>
<line x1="21.80" y1="145.20" x2="23.80" y2="145.20" stroke="#333" stroke-width="0.6" />
<text x="21.00" y="145.20" font-size="5.2" text-anchor="end" fill="#111" color="#111" font-family='"Liberation Sans", sans-serif' dominant-baseline="central"  stroke="#111" stroke-width="0.07" transform="rotate(0.1 21.00 145.20)">2.0</text>
<text x="104.55" y="318.00" font-size="5.1" text-anchor="middle" fill="#111" color="#111" font-family='"Liberation Sans", sans-serif' dominant-baseline="central"  stroke="#111" stroke-width="0.07" transform="rotate(0.1 104.55 318.00)">Dim 1 (20.4%)</text>
<text x="4.40" y="225.90" font-size="5.3" text-anchor="middle" fill="#111" color="#111" font-family='"Liberation Sans", sans-serif' dominant-baseline="central" transform="rotate(-89.9 4.40 225.90)" stroke="#111" stroke-width="0.07">Dim 2 (19.4%)</text>
<text x="104.55" y="140.10" font-size="6.5" text-anchor="middle" fill="#000" color="#000" font-family='"Liberation Sans", sans-serif' dominant-baseline="central"  textLength="161.00" lengthAdjust="spacingAndGlyphs" stroke="#000" stroke-width="0.09" transform="rotate(0.1 104.55 140.10)">MCA — Biplot with Ellipses by Group and Category Vectors</text>
<text x="2.30" y="141.00" font-size="6.4" text-anchor="start" fill="#222" color="#222" font-family='"Liberation Serif", serif' dominant-baseline="central"  transform="rotate(0.1 2.30 141.00)">(c)</text>
<rect x="147.9" y="283.9" width="35.099999999999994" height="20.5" rx="1" fill="#fff" fill-opacity="0.8" stroke="#d4d4d4" stroke-width="0.5"/>
<text x="164.85" y="288.30" font-size="5.1" text-anchor="middle" fill="#111" color="#111" font-family='"Liberation Sans", sans-serif' dominant-baseline="central"  textLength="25.80" lengthAdjust="spacingAndGlyphs" stroke="#111" stroke-width="0.07" transform="rotate(0.1 164.85 288.30)">vaccination</text>
<circle cx="154.20" cy="294.70" r="1.05" fill="#857a45" />
<text x="161.30" y="294.40" font-size="4.5" text-anchor="start" fill="#111" color="#111" font-family='"Liberation Sans", sans-serif' dominant-baseline="central"  textLength="13.50" lengthAdjust="spacingAndGlyphs" stroke="#111" stroke-width="0.07" transform="rotate(0.1 161.30 294.40)">absent</text>
<circle cx="154.20" cy="300.70" r="1.05" fill="#525872" />
<text x="161.30" y="300.40" font-size="4.6" text-anchor="start" fill="#111" color="#111" font-family='"Liberation Sans", sans-serif' dominant-baseline="central"  textLength="18.50" lengthAdjust="spacingAndGlyphs" stroke="#111" stroke-width="0.07" transform="rotate(0.1 161.30 300.40)">complete</text>
<line x1="288.90" y1="145.50" x2="288.90" y2="305.80" stroke="#f3f3f3" stroke-width="0.5" />
<line x1="289.00" y1="305.60" x2="450.30" y2="305.60" stroke="#f3f3f3" stroke-width="0.5" />
<line x1="309.05" y1="145.50" x2="309.05" y2="305.80" stroke="#f3f3f3" stroke-width="0.5" />
<line x1="289.00" y1="285.55" x2="450.30" y2="285.55" stroke="#f3f3f3" stroke-width="0.5" />
<line x1="329.20" y1="145.50" x2="329.20" y2="305.80" stroke="#f3f3f3" stroke-width="0.5" />
<line x1="289.00" y1="265.50" x2="450.30" y2="265.50" stroke="#f3f3f3" stroke-width="0.5" />
<line x1="349.35" y1="145.50" x2="349.35" y2="305.80" stroke="#f3f3f3" stroke-width="0.5" />
<line x1="289.00" y1="245.45" x2="450.30" y2="245.45" stroke="#f3f3f3" stroke-width="0.5" />
<line x1="369.50" y1="145.50" x2="369.50" y2="305.80" stroke="#f3f3f3" stroke-width="0.5" />
<line x1="289.00" y1="225.40" x2="450.30" y2="225.40" stroke="#f3f3f3" stroke-width="0.5" />
<line x1="389.65" y1="145.50" x2="389.65" y2="305.80" stroke="#f3f3f3" stroke-width="0.5" />
<line x1="289.00" y1="205.35" x2="450.30" y2="205.35" stroke="#f3f3f3" stroke-width="0.5" />
<line x1="409.80" y1="145.50" x2="409.80" y2="305.80" stroke="#f3f3f3" stroke-width="0.5" />
<line x1="289.00" y1="185.30" x2="450.30" y2="185.30" stroke="#f3f3f3" stroke-width="0.5" />
<line x1="429.95" y1="145.50" x2="429.95" y2="305.80" stroke="#f3f3f3" stroke-width="0.5" />
<line x1="289.00" y1="165.25" x2="450.30" y2="165.25" stroke="#f3f3f3" stroke-width="0.5" />
<line x1="450.10" y1="145.50" x2="450.10" y2="305.80" stroke="#f3f3f3" stroke-width="0.5" />
<line x1="289.00" y1="145.20" x2="450.30" y2="145.20" stroke="#f3f3f3" stroke-width="0.5" />
<g transform="rotate(-8.4 372.15 234.70)">
<ellipse cx="372.15" cy="234.70" rx="53.05" ry="39.70" fill="#fbe4df" fill-opacity="1.0"/>
<clipPath id="ec3"><ellipse cx="372.15" cy="234.70" rx="53.05" ry="39.70"/></clipPath>
<ellipse cx="372.15" cy="234.70" rx="53.05" ry="39.70" fill="none" stroke="#d8d0b8" stroke-opacity="0.22" stroke-width="5" clip-path="url(#ec3)"/>
</g>
<g transform="rotate(-2.5 366.60 212.80)">
<ellipse cx="366.60" cy="212.80" rx="52.80" ry="35.80" fill="#9fd3cf" fill-opacity="0.22"/>
<ellipse cx="366.60" cy="212.80" rx="50.00" ry="33.00" fill="#9fd3cf" fill-opacity="0.231"/>
</g>
<line x1="369.50" y1="145.50" x2="369.50" y2="305.80" stroke="#444" stroke-width="0.75" stroke-dasharray="1.5,1.5"/>
<line x1="289.00" y1="225.40" x2="450.30" y2="225.40" stroke="#444" stroke-width="0.75" stroke-dasharray="1.5,1.5"/>
<rect x="352.2" y="200.2" width="17.1" height="25.2" fill="#f2b9bb" fill-opacity="0.5"/>
<line x1="369.3" y1="225.4" x2="378.16" y2="226.96" stroke="#e07a80" stroke-width="0.6" stroke-opacity="0.7"/>
<line x1="369.3" y1="225.4" x2="375.43" y2="230.54" stroke="#e07a80" stroke-width="0.6" stroke-opacity="0.7"/>
<line x1="369.3" y1="225.4" x2="371.11" y2="232.16" stroke="#e07a80" stroke-width="0.6" stroke-opacity="0.7"/>
<line x1="369.3" y1="225.4" x2="366.56" y2="232.92" stroke="#e07a80" stroke-width="0.6" stroke-opacity="0.7"/>
<line x1="369.3" y1="225.4" x2="361.51" y2="229.90" stroke="#e07a80" stroke-width="0.6" stroke-opacity="0.7"/>
<line x1="369.3" y1="225.4" x2="361.78" y2="222.66" stroke="#e07a80" stroke-width="0.6" stroke-opacity="0.7"/>
<line x1="369.3" y1="225.4" x2="366.91" y2="218.82" stroke="#e07a80" stroke-width="0.6" stroke-opacity="0.7"/>
<line x1="369.3" y1="225.4" x2="372.04" y2="217.88" stroke="#e07a80" stroke-width="0.6" stroke-opacity="0.7"/>
<line x1="369.3" y1="225.4" x2="377.09" y2="220.90" stroke="#e07a80" stroke-width="0.6" stroke-opacity="0.7"/>
<circle cx="346.60" cy="181.80" r="1.0" fill="#505050" />
<circle cx="425.50" cy="180.00" r="1.0" fill="#505050" />
<circle cx="431.20" cy="200.50" r="1.0" fill="#857a45" />
<circle cx="433.00" cy="199.20" r="1.0" fill="#505050" />
<circle cx="446.20" cy="206.20" r="1.0" fill="#857a45" />
<circle cx="426.00" cy="218.70" r="1.0" fill="#857a45" />
<circle cx="438.50" cy="219.20" r="1.0" fill="#857a45" />
<circle cx="416.70" cy="233.00" r="1.0" fill="#857a45" />
<circle cx="351.20" cy="210.30" r="1.0" fill="#505050" />
<circle cx="394.60" cy="203.20" r="1.0" fill="#505050" />
<circle cx="409.70" cy="213.30" r="1.0" fill="#505050" />
<circle cx="373.40" cy="216.30" r="1.0" fill="#505050" />
<circle cx="358.20" cy="228.40" r="1.0" fill="#505050" />
<circle cx="359.20" cy="220.40" r="1.0" fill="#857a45" />
<circle cx="378.40" cy="236.50" r="1.0" fill="#857a45" />
<circle cx="364.30" cy="249.60" r="1.0" fill="#505050" />
<circle cx="379.30" cy="255.60" r="1.0" fill="#7a6a5a" />
<circle cx="417.30" cy="252.50" r="1.0" fill="#857a45" />
<rect x="360.50" y="193.10" width="42.00" height="6.00" fill="#fff6f4" fill-opacity="0.55"/>
<rect x="384.70" y="218.80" width="17.80" height="6.00" fill="#fff6f4" fill-opacity="0.55"/>
<rect x="377.60" y="238.60" width="49.60" height="6.00" fill="#fff6f4" fill-opacity="0.55"/>
<rect x="377.60" y="242.20" width="36.00" height="6.00" fill="#fff6f4" fill-opacity="0.55"/>
<rect x="359.50" y="237.60" width="18.60" height="6.00" fill="#fff6f4" fill-opacity="0.55"/>
<line x1="369.50" y1="225.40" x2="346.50" y2="175.00" stroke="#6e5642" stroke-width="0.75" />
<circle cx="346.50" cy="175.00" r="1.0" fill="#3e342c" />
<line x1="369.50" y1="225.40" x2="359.20" y2="200.20" stroke="#6e5642" stroke-width="0.75" />
<circle cx="359.20" cy="200.20" r="1.0" fill="#3e342c" />
<line x1="369.50" y1="225.40" x2="361.30" y2="200.20" stroke="#6e5642" stroke-width="0.75" />
<circle cx="361.30" cy="200.20" r="1.0" fill="#3e342c" />
<line x1="369.50" y1="225.40" x2="395.60" y2="212.90" stroke="#6e5642" stroke-width="0.75" />
<circle cx="395.60" cy="212.90" r="1.0" fill="#3e342c" />
<line x1="369.50" y1="225.40" x2="401.70" y2="237.10" stroke="#6e5642" stroke-width="0.75" />
<circle cx="401.70" cy="237.10" r="1.0" fill="#3e342c" />
<line x1="369.50" y1="225.40" x2="376.40" y2="244.60" stroke="#6e5642" stroke-width="0.75" />
<circle cx="376.40" cy="244.60" r="1.0" fill="#3e342c" />
<line x1="369.50" y1="225.40" x2="374.40" y2="243.60" stroke="#6e5642" stroke-width="0.75" />
<circle cx="374.40" cy="243.60" r="1.0" fill="#3e342c" />
<line x1="369.50" y1="225.40" x2="360.30" y2="240.60" stroke="#6e5642" stroke-width="0.75" />
<circle cx="360.30" cy="240.60" r="1.0" fill="#3e342c" />
<line x1="369.50" y1="225.40" x2="358.20" y2="225.40" stroke="#6e5642" stroke-width="0.75" />
<circle cx="358.20" cy="225.40" r="1.0" fill="#3e342c" />
<text x="346.50" y="170.70" font-size="4.2" text-anchor="start" fill="#4a4a4a" color="#4a4a4a" font-family='"Liberation Sans", sans-serif' dominant-baseline="central"  textLength="74.50" lengthAdjust="spacingAndGlyphs" stroke="#4a4a4a" stroke-width="0.07" transform="rotate(0.1 346.50 170.70)">sanitation_treated water without sewage</text>
<text x="457.30" y="176.70" font-size="4.25" text-anchor="start" fill="#4a4a4a" color="#4a4a4a" font-family='"Liberation Sans", sans-serif' dominant-baseline="central"  textLength="91.40" lengthAdjust="spacingAndGlyphs" stroke="#4a4a4a" stroke-width="0.07" transform="rotate(0.1 457.30 176.70)">sanitation_without treated water, without sewage</text>
<text x="399.60" y="210.00" font-size="4.2" text-anchor="start" fill="#4a4a4a" color="#4a4a4a" font-family='"Liberation Sans", sans-serif' dominant-baseline="central"  textLength="85.00" lengthAdjust="spacingAndGlyphs" stroke="#4a4a4a" stroke-width="0.07" transform="rotate(0.1 399.60 210.00)">sanitation_without treated water, with sewage</text>
<text x="459.00" y="215.00" font-size="4.2" text-anchor="start" fill="#4a4a4a" color="#4a4a4a" font-family='"Liberation Sans", sans-serif' dominant-baseline="central"  textLength="21.00" lengthAdjust="spacingAndGlyphs" stroke="#4a4a4a" stroke-width="0.07" transform="rotate(0.1 459.00 215.00)">asphalt_no</text>
<text x="361.30" y="196.10" font-size="4.0" text-anchor="start" fill="#444" color="#444" font-family='"Liberation Sans", sans-serif' dominant-baseline="central"  textLength="40.40" lengthAdjust="spacingAndGlyphs" stroke="#444" stroke-width="0.07" transform="rotate(0.1 361.30 196.10)">rotavirus_vaccination_complete</text>
<text x="385.50" y="221.80" font-size="4.0" text-anchor="start" fill="#777" color="#777" font-family='"Liberation Sans", sans-serif' dominant-baseline="central"  textLength="16.20" lengthAdjust="spacingAndGlyphs" stroke="#777" stroke-width="0.07" transform="rotate(0.1 385.50 221.80)">negative</text>
<text x="405.70" y="236.50" font-size="4.1" text-anchor="start" fill="#7a5a6a" color="#7a5a6a" font-family='"Liberation Sans", sans-serif' dominant-baseline="central"  textLength="33.00" lengthAdjust="spacingAndGlyphs" stroke="#7a5a6a" stroke-width="0.07" transform="rotate(0.1 405.70 236.50)">rotavirus_positive</text>
<text x="378.40" y="241.60" font-size="4.0" text-anchor="start" fill="#666" color="#666" font-family='"Liberation Sans", sans-serif' dominant-baseline="central"  textLength="48.00" lengthAdjust="spacingAndGlyphs" stroke="#666" stroke-width="0.07" transform="rotate(0.1 378.40 241.60)">sanitation_treated water and sewage</text>
<text x="378.40" y="245.20" font-size="4.0" text-anchor="start" fill="#666" color="#666" font-family='"Liberation Sans", sans-serif' dominant-baseline="central"  textLength="34.40" lengthAdjust="spacingAndGlyphs" stroke="#666" stroke-width="0.07" transform="rotate(0.1 378.40 245.20)">vaccination_absent</text>
<text x="360.30" y="240.60" font-size="4.0" text-anchor="start" fill="#666" color="#666" font-family='"Liberation Sans", sans-serif' dominant-baseline="central"  textLength="17.00" lengthAdjust="spacingAndGlyphs" stroke="#666" stroke-width="0.07" transform="rotate(0.1 360.30 240.60)">sanitation</text>
<rect x="289.0" y="145.5" width="161.3" height="160.3" fill="none" stroke="#8c8c8c" stroke-width="1.0"/>
<line x1="288.90" y1="305.80" x2="288.90" y2="307.80" stroke="#333" stroke-width="0.6" />
<text x="288.90" y="312.10" font-size="5.2" text-anchor="middle" fill="#111" color="#111" font-family='"Liberation Sans", sans-serif' dominant-baseline="central"  stroke="#111" stroke-width="0.07" transform="rotate(0.1 288.90 312.10)">−2.0</text>
<line x1="287.00" y1="305.60" x2="289.00" y2="305.60" stroke="#333" stroke-width="0.6" />
<text x="286.20" y="305.60" font-size="5.2" text-anchor="end" fill="#111" color="#111" font-family='"Liberation Sans", sans-serif' dominant-baseline="central"  stroke="#111" stroke-width="0.07" transform="rotate(0.1 286.20 305.60)">−2.0</text>
<line x1="309.05" y1="305.80" x2="309.05" y2="307.80" stroke="#333" stroke-width="0.6" />
<text x="309.05" y="312.10" font-size="5.2" text-anchor="middle" fill="#111" color="#111" font-family='"Liberation Sans", sans-serif' dominant-baseline="central"  stroke="#111" stroke-width="0.07" transform="rotate(0.1 309.05 312.10)">−1.5</text>
<line x1="287.00" y1="285.55" x2="289.00" y2="285.55" stroke="#333" stroke-width="0.6" />
<text x="286.20" y="285.55" font-size="5.2" text-anchor="end" fill="#111" color="#111" font-family='"Liberation Sans", sans-serif' dominant-baseline="central"  stroke="#111" stroke-width="0.07" transform="rotate(0.1 286.20 285.55)">−1.5</text>
<line x1="329.20" y1="305.80" x2="329.20" y2="307.80" stroke="#333" stroke-width="0.6" />
<text x="329.20" y="312.10" font-size="5.2" text-anchor="middle" fill="#111" color="#111" font-family='"Liberation Sans", sans-serif' dominant-baseline="central"  stroke="#111" stroke-width="0.07" transform="rotate(0.1 329.20 312.10)">−1.0</text>
<line x1="287.00" y1="265.50" x2="289.00" y2="265.50" stroke="#333" stroke-width="0.6" />
<text x="286.20" y="265.50" font-size="5.2" text-anchor="end" fill="#111" color="#111" font-family='"Liberation Sans", sans-serif' dominant-baseline="central"  stroke="#111" stroke-width="0.07" transform="rotate(0.1 286.20 265.50)">−1.0</text>
<line x1="349.35" y1="305.80" x2="349.35" y2="307.80" stroke="#333" stroke-width="0.6" />
<text x="349.35" y="312.10" font-size="5.2" text-anchor="middle" fill="#111" color="#111" font-family='"Liberation Sans", sans-serif' dominant-baseline="central"  stroke="#111" stroke-width="0.07" transform="rotate(0.1 349.35 312.10)">−0.5</text>
<line x1="287.00" y1="245.45" x2="289.00" y2="245.45" stroke="#333" stroke-width="0.6" />
<text x="286.20" y="245.45" font-size="5.2" text-anchor="end" fill="#111" color="#111" font-family='"Liberation Sans", sans-serif' dominant-baseline="central"  stroke="#111" stroke-width="0.07" transform="rotate(0.1 286.20 245.45)">−0.5</text>
<line x1="369.50" y1="305.80" x2="369.50" y2="307.80" stroke="#333" stroke-width="0.6" />
<text x="369.50" y="312.10" font-size="5.2" text-anchor="middle" fill="#111" color="#111" font-family='"Liberation Sans", sans-serif' dominant-baseline="central"  stroke="#111" stroke-width="0.07" transform="rotate(0.1 369.50 312.10)">0.0</text>
<line x1="287.00" y1="225.40" x2="289.00" y2="225.40" stroke="#333" stroke-width="0.6" />
<text x="286.20" y="225.40" font-size="5.2" text-anchor="end" fill="#111" color="#111" font-family='"Liberation Sans", sans-serif' dominant-baseline="central"  stroke="#111" stroke-width="0.07" transform="rotate(0.1 286.20 225.40)">0.0</text>
<line x1="389.65" y1="305.80" x2="389.65" y2="307.80" stroke="#333" stroke-width="0.6" />
<text x="389.65" y="312.10" font-size="5.2" text-anchor="middle" fill="#111" color="#111" font-family='"Liberation Sans", sans-serif' dominant-baseline="central"  stroke="#111" stroke-width="0.07" transform="rotate(0.1 389.65 312.10)">0.5</text>
<line x1="287.00" y1="205.35" x2="289.00" y2="205.35" stroke="#333" stroke-width="0.6" />
<text x="286.20" y="205.35" font-size="5.2" text-anchor="end" fill="#111" color="#111" font-family='"Liberation Sans", sans-serif' dominant-baseline="central"  stroke="#111" stroke-width="0.07" transform="rotate(0.1 286.20 205.35)">0.5</text>
<line x1="409.80" y1="305.80" x2="409.80" y2="307.80" stroke="#333" stroke-width="0.6" />
<text x="409.80" y="312.10" font-size="5.2" text-anchor="middle" fill="#111" color="#111" font-family='"Liberation Sans", sans-serif' dominant-baseline="central"  stroke="#111" stroke-width="0.07" transform="rotate(0.1 409.80 312.10)">1.0</text>
<line x1="287.00" y1="185.30" x2="289.00" y2="185.30" stroke="#333" stroke-width="0.6" />
<text x="286.20" y="185.30" font-size="5.2" text-anchor="end" fill="#111" color="#111" font-family='"Liberation Sans", sans-serif' dominant-baseline="central"  stroke="#111" stroke-width="0.07" transform="rotate(0.1 286.20 185.30)">1.0</text>
<line x1="429.95" y1="305.80" x2="429.95" y2="307.80" stroke="#333" stroke-width="0.6" />
<text x="429.95" y="312.10" font-size="5.2" text-anchor="middle" fill="#111" color="#111" font-family='"Liberation Sans", sans-serif' dominant-baseline="central"  stroke="#111" stroke-width="0.07" transform="rotate(0.1 429.95 312.10)">1.5</text>
<line x1="287.00" y1="165.25" x2="289.00" y2="165.25" stroke="#333" stroke-width="0.6" />
<text x="286.20" y="165.25" font-size="5.2" text-anchor="end" fill="#111" color="#111" font-family='"Liberation Sans", sans-serif' dominant-baseline="central"  stroke="#111" stroke-width="0.07" transform="rotate(0.1 286.20 165.25)">1.5</text>
<line x1="450.10" y1="305.80" x2="450.10" y2="307.80" stroke="#333" stroke-width="0.6" />
<text x="450.10" y="312.10" font-size="5.2" text-anchor="middle" fill="#111" color="#111" font-family='"Liberation Sans", sans-serif' dominant-baseline="central"  stroke="#111" stroke-width="0.07" transform="rotate(0.1 450.10 312.10)">2.0</text>
<line x1="287.00" y1="145.20" x2="289.00" y2="145.20" stroke="#333" stroke-width="0.6" />
<text x="286.20" y="145.20" font-size="5.2" text-anchor="end" fill="#111" color="#111" font-family='"Liberation Sans", sans-serif' dominant-baseline="central"  stroke="#111" stroke-width="0.07" transform="rotate(0.1 286.20 145.20)">2.0</text>
<text x="369.65" y="317.80" font-size="5.1" text-anchor="middle" fill="#111" color="#111" font-family='"Liberation Sans", sans-serif' dominant-baseline="central"  stroke="#111" stroke-width="0.07" transform="rotate(0.1 369.65 317.80)">Dim 1 (20.7%)</text>
<text x="270.00" y="224.80" font-size="5.3" text-anchor="middle" fill="#111" color="#111" font-family='"Liberation Sans", sans-serif' dominant-baseline="central" transform="rotate(-89.9 270.00 224.80)" stroke="#111" stroke-width="0.07">Dim 2 (17.1%)</text>
<text x="369.65" y="140.30" font-size="6.5" text-anchor="middle" fill="#000" color="#000" font-family='"Liberation Sans", sans-serif' dominant-baseline="central"  textLength="161.00" lengthAdjust="spacingAndGlyphs" stroke="#000" stroke-width="0.09" transform="rotate(0.1 369.65 140.30)">MCA — Biplot with Ellipses by Group and Category Vectors</text>
<text x="267.00" y="140.50" font-size="6.4" text-anchor="start" fill="#222" color="#222" font-family='"Liberation Serif", serif' dominant-baseline="central" font-style="italic" transform="rotate(0.1 267.00 140.50)">(d)</text>
<rect x="414.9" y="283.8" width="33.700000000000045" height="20.69999999999999" rx="1" fill="#fff" fill-opacity="0.8" stroke="#d4d4d4" stroke-width="0.5"/>
<text x="431.15" y="288.20" font-size="5.1" text-anchor="middle" fill="#111" color="#111" font-family='"Liberation Sans", sans-serif' dominant-baseline="central"  textLength="25.80" lengthAdjust="spacingAndGlyphs" stroke="#111" stroke-width="0.07" transform="rotate(0.1 431.15 288.20)">vaccination</text>
<circle cx="421.20" cy="294.60" r="1.05" fill="#857a45" />
<text x="428.30" y="294.30" font-size="4.5" text-anchor="start" fill="#111" color="#111" font-family='"Liberation Sans", sans-serif' dominant-baseline="central"  textLength="13.50" lengthAdjust="spacingAndGlyphs" stroke="#111" stroke-width="0.07" transform="rotate(0.1 428.30 294.30)">absent</text>
<circle cx="421.20" cy="300.60" r="1.05" fill="#525872" />
<text x="428.30" y="300.30" font-size="4.6" text-anchor="start" fill="#111" color="#111" font-family='"Liberation Sans", sans-serif' dominant-baseline="central"  textLength="18.50" lengthAdjust="spacingAndGlyphs" stroke="#111" stroke-width="0.07" transform="rotate(0.1 428.30 300.30)">complete</text>
</svg>
</body></html>
